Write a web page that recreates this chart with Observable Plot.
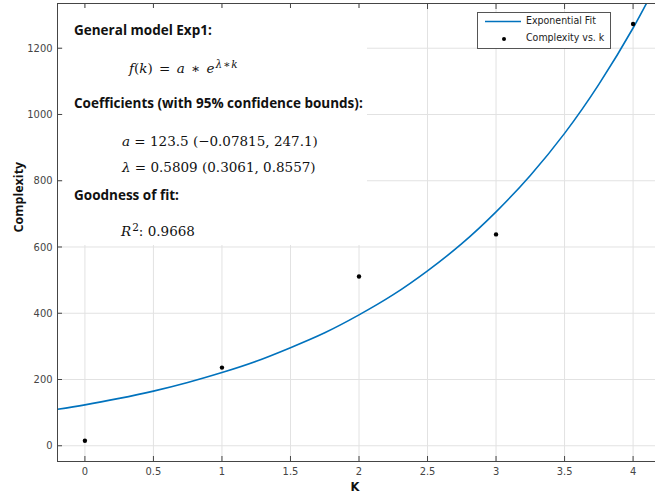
<!DOCTYPE html>
<html>
<head>
<meta charset="utf-8">
<script src="https://cdn.jsdelivr.net/npm/d3@7"></script>
<script src="https://cdn.jsdelivr.net/npm/@observablehq/plot@0.6"></script>
<style>
  html, body { margin: 0; padding: 0; background: #fff; }
  #wrap { position: relative; width: 655px; height: 504px; overflow: hidden; }
  #wrap svg.chart { display: block; max-width: none !important; width: 660px !important; height: 504px !important; }
  .box { position: absolute; background: #fff; }
  .hdr { position: absolute; font-family: "Open Sans", sans-serif; font-weight: 700; font-size: 13.5px; line-height: 1; color: #111; white-space: nowrap; }
  .math { position: absolute; font-family: "DejaVu Serif", serif; font-size: 13.5px; line-height: 1; color: #111; white-space: nowrap; }
  .math i { font-style: italic; }
  .math .op { margin: 0 2px; }
  .math sup { font-size: 10.5px; vertical-align: 0; position: relative; top: -5px; margin-left: 1px; }
  .math sup .op { margin: 0 1px; }
  .legend { position: absolute; background: #fff; border: 1px solid #555; box-sizing: border-box;
            font-family: "DejaVu Sans Condensed", "DejaVu Sans", sans-serif; font-size: 10.5px; color: #222; }
  .legend .row { position: absolute; left: 0; white-space: nowrap; }
</style>
</head>
<body>
<div id="wrap"></div>
<script>
// Data points: Complexity vs. k
const kValues = [0, 1, 2, 3, 4];
const complexity = [15, 236, 511, 638, 1273];

// Exponential fit curve
const fitK = [-0.2, 0, 0.25, 0.5, 0.75, 1, 1.25, 1.5, 1.75, 2, 2.25, 2.5, 2.75, 3, 3.25, 3.5, 3.75, 4, 4.2];
const fitY = [110, 123.5, 143, 165, 191, 221, 255, 296, 341, 395, 456, 528, 610, 706, 816, 943, 1091, 1261, 1417];

// Ticks
const xTicks = [0, 0.5, 1, 1.5, 2, 2.5, 3, 3.5, 4];
const xTickLabels = ["0", "0.5", "1", "1.5", "2", "2.5", "3", "3.5", "4"];
const yTicks = [0, 200, 400, 600, 800, 1000, 1200];
const yTickLabels = ["0", "200", "400", "600", "800", "1000", "1200"];

const points = kValues.map((k, i) => ({k, c: complexity[i]}));
const fit = fitK.map((k, i) => ({k, y: fitY[i]}));

const axisColor = "#454545";
const gridColor = "#e2e2e2";
const tickFont = "DejaVu Sans Condensed, DejaVu Sans, sans-serif";

const chart = Plot.plot({
  width: 660,
  height: 504,
  marginLeft: 57,
  marginRight: 0,
  marginTop: 3,
  marginBottom: 43,
  style: {background: "#fff", fontFamily: tickFont, fontSize: "11px", color: axisColor},
  x: {domain: [-0.2, 4.2]},
  y: {domain: [-47.5, 1335]},
  marks: [
    Plot.gridX(xTicks, {stroke: gridColor, strokeOpacity: 1}),
    Plot.gridY(yTicks, {stroke: gridColor, strokeOpacity: 1}),
    Plot.line(fit, {x: "k", y: "y", stroke: "#0072BD", strokeWidth: 1.6, curve: "natural", clip: true}),
    Plot.dot(points, {x: "k", y: "c", r: 2.2, fill: "#000", stroke: "none"}),
    Plot.frame({stroke: axisColor, strokeWidth: 1}),
    Plot.axisY({ticks: yTicks, tickFormat: (d) => yTickLabels[yTicks.indexOf(d)], tickSize: -5, tickPadding: 10, label: null, stroke: axisColor, fill: axisColor}),
    Plot.axisX({ticks: xTicks, tickFormat: (d) => xTickLabels[xTicks.indexOf(d)], tickSize: -5, tickPadding: 11, label: null, stroke: axisColor, fill: axisColor}),
    Plot.axisX({anchor: "top", ticks: xTicks, tickFormat: () => "", tickSize: -5, label: null, stroke: axisColor}),
    Plot.text(["Complexity"], {frameAnchor: "left", dx: -39, rotate: -90, fontFamily: "Open Sans, sans-serif", fontWeight: 700, fontSize: 12.5, fill: "#111"}),
    Plot.text(["K"], {frameAnchor: "bottom", dy: 29, dx: -4, fontFamily: "DejaVu Sans, sans-serif", fontWeight: 700, fontSize: 11.5, fill: "#111"})
  ]
});
chart.classList.add("chart");

const wrap = document.getElementById("wrap");
wrap.appendChild(chart);

// Annotation box with fit results
const box = document.createElement("div");
box.className = "box";
Object.assign(box.style, {left: "63px", top: "8px", width: "304px", height: "237px"});
wrap.appendChild(box);

function addText(cls, html, left, top) {
  const d = document.createElement("div");
  d.className = cls;
  d.innerHTML = html;
  d.style.left = left + "px";
  d.style.top = top + "px";
  wrap.appendChild(d);
}
addText("hdr", "General model Exp1:", 74, 24);
addText("math", "<i>f</i>(<i>k</i>)<span class='op'> = </span><i>a</i><span class='op'> ∗ </span><i>e</i><sup><i>λ</i><span class='op'>∗</span><i>k</i></sup>", 129, 62);
addText("hdr", "Coefficients (with 95% confidence bounds):", 74, 97);
addText("math", "<i>a</i> = 123.5 (−0.07815, 247.1)", 122, 135);
addText("math", "<i>λ</i> = 0.5809 (0.3061, 0.8557)", 122, 161);
addText("hdr", "Goodness of fit:", 74, 189);
addText("math", "<i>R</i><sup>2</sup>: 0.9668", 121, 225);

// Legend
const legend = document.createElement("div");
legend.className = "legend";
Object.assign(legend.style, {left: "477px", top: "12px", width: "134px", height: "37px"});
legend.innerHTML =
  '<svg width="134" height="37" style="position:absolute;left:0;top:0">' +
  '<line x1="7" x2="43" y1="8.5" y2="8.5" stroke="#0072BD" stroke-width="1.6"></line>' +
  '<circle cx="26" cy="26" r="2" fill="#000"></circle></svg>' +
  '<div class="row" style="left:48px;top:1px">Exponential Fit</div>' +
  '<div class="row" style="left:48px;top:18px">Complexity vs. k</div>';
wrap.appendChild(legend);
</script>
</body>
</html>
